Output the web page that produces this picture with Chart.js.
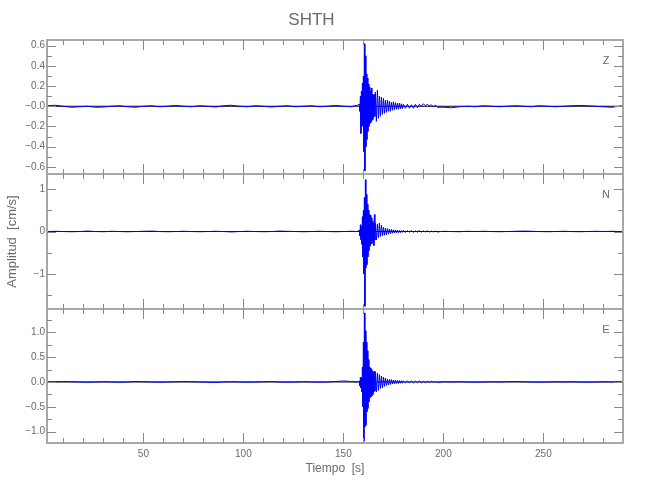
<!DOCTYPE html>
<html><head><meta charset="utf-8">
<script src="https://cdn.jsdelivr.net/npm/chart.js@4/dist/chart.umd.min.js"></script>
<style>html,body{margin:0;padding:0;background:#fff;}</style>
</head><body>
<canvas id="c" width="650" height="500"></canvas>
<script>
// ---- time samples (s) ----
const timeQuiet = [1.8, 6, 10, 14, 18, 22, 26, 30, 34, 38, 42, 46, 50, 54, 58, 62, 66, 70, 74, 78, 82, 86, 90, 94, 98, 102, 106, 110, 114, 118, 122, 126, 130, 134, 138, 142, 146, 150, 154, 157];
const timeBurst = [158, 158.25, 158.5, 158.75, 159, 159.25, 159.5, 159.75, 160, 160.25, 160.5, 160.75, 161, 161.25, 161.5, 161.75, 162, 162.25, 162.5, 162.75, 163, 163.25, 163.5, 163.75, 164, 164.25, 164.5, 164.75, 165, 165.25, 165.5, 165.75];
const timeDecay = [166, 166.5, 167, 167.5, 168, 168.5, 169, 169.5, 170, 170.5, 171, 171.5, 172, 172.5, 173, 173.5, 174, 174.5, 175, 175.5, 176, 176.5, 177, 177.5, 178, 178.5, 179, 179.5];
const timeCoda = [180, 181, 182, 183, 184, 185, 186, 187, 188, 189, 190, 191, 192, 193, 194, 195, 196, 197];
const timeTail = [200, 204, 208, 212, 216, 220, 224, 228, 232, 236, 240, 244, 248, 252, 256, 260, 264, 268, 272, 276, 280, 284, 288, 289.8];

// ---- Z component (cm/s) ----
const zQuiet = [0.005, 0.01, 0.0, -0.01, -0.005, 0.0, -0.01, -0.008, 0.0, 0.005, -0.005, -0.01, 0.0, 0.005, -0.005, 0.0, 0.008, 0.0, -0.005, 0.005, 0.0, -0.008, 0.005, 0.01, 0.0, -0.005, 0.005, 0.0, -0.008, 0.0, 0.005, -0.005, 0.0, 0.005, -0.005, 0.0, 0.008, 0.0, -0.005, 0.01];
const zBurst = [0.02, -0.05, 0.1, -0.27, 0.15, -0.2, 0.23, -0.18, 0.3, -0.45, 0.62, -0.64, 0.5, -0.4, 0.32, -0.33, 0.28, -0.25, 0.22, -0.2, 0.19, -0.17, 0.15, -0.16, 0.18, -0.14, 0.12, -0.13, 0.11, -0.1, 0.12, -0.1];
const zDecay = [0.14, -0.15, 0.16, -0.12, 0.1, -0.1, 0.09, -0.08, 0.08, -0.07, 0.06, -0.06, 0.06, -0.05, 0.05, -0.05, 0.04, -0.04, 0.045, -0.035, 0.035, -0.03, 0.03, -0.03, 0.03, -0.025, 0.025, -0.025];
const zCoda = [0.02, -0.02, 0.02, -0.02, 0.015, -0.02, 0.02, -0.015, 0.02, 0.0, 0.025, 0.005, 0.02, 0.0, 0.015, -0.005, 0.01, -0.01];
const zTail = [-0.01, -0.015, -0.005, 0.0, -0.005, 0.005, 0.0, -0.005, 0.0, 0.005, 0.0, -0.005, 0.005, 0.0, -0.005, 0.0, 0.005, 0.008, 0.005, 0.0, -0.005, -0.01, 0.0, 0.005];

// ---- N component ----
const nQuiet = [0.0, 0.005, 0.0, -0.005, 0.0, 0.01, 0.0, -0.005, 0.005, 0.0, -0.005, 0.0, 0.005, 0.01, 0.0, -0.005, 0.0, 0.005, 0.0, -0.005, 0.0, 0.005, 0.0, -0.01, 0.0, 0.005, 0.0, -0.005, 0.0, 0.01, 0.005, 0.0, -0.005, 0.0, 0.005, 0.0, -0.005, 0.0, 0.005, 0.0];
const nBurst = [0.03, -0.1, 0.16, -0.19, 0.12, -0.3, 0.35, -0.6, 0.5, -1.0, 0.8, -1.76, 1.22, -0.85, 0.87, -0.78, 0.64, -0.6, 0.5, -0.45, 0.4, -0.35, 0.38, -0.3, 0.32, -0.28, 0.25, -0.22, 0.2, -0.33, 0.4, -0.2];
const nDecay = [0.2, -0.2, 0.18, -0.15, 0.2, -0.12, 0.15, -0.1, 0.1, -0.09, 0.08, -0.08, 0.07, -0.06, 0.06, -0.05, 0.05, -0.04, 0.04, -0.035, 0.035, -0.03, 0.03, -0.03, 0.025, -0.025, 0.025, -0.02];
const nCoda = [0.02, -0.02, 0.02, -0.015, 0.02, -0.02, 0.015, -0.015, 0.02, -0.015, 0.015, -0.01, 0.015, -0.01, 0.01, -0.01, 0.01, -0.01];
const nTail = [0.005, 0.0, -0.005, 0.005, 0.0, 0.005, 0.0, -0.005, 0.0, 0.005, 0.01, 0.005, 0.0, -0.005, 0.0, 0.005, 0.0, -0.005, 0.0, 0.005, 0.0, 0.005, 0.0, 0.0];

// ---- E component ----
const eQuiet = [0.0, 0.005, 0.01, 0.005, 0.0, -0.005, 0.0, 0.005, 0.0, -0.005, 0.0, 0.01, 0.005, 0.0, -0.005, 0.0, 0.005, 0.01, 0.005, 0.0, -0.005, -0.01, 0.0, 0.005, 0.0, -0.005, 0.0, 0.005, 0.01, 0.0, -0.005, 0.0, 0.005, 0.0, -0.005, 0.0, 0.01, 0.02, 0.01, 0.0];
const eBurst = [0.02, -0.08, 0.1, -0.12, 0.08, -0.2, 0.3, -0.5, 0.8, -1.19, 1.39, -0.9, 1.03, -0.87, 0.8, -0.6, 0.63, -0.53, 0.45, -0.4, 0.3, -0.32, 0.28, -0.3, 0.25, -0.28, 0.22, -0.25, 0.2, -0.2, 0.22, -0.18];
const eDecay = [0.2, -0.2, 0.18, -0.17, 0.15, -0.13, 0.12, -0.12, 0.1, -0.09, 0.08, -0.07, 0.06, -0.06, 0.05, -0.05, 0.05, -0.04, 0.04, -0.035, 0.035, -0.03, 0.03, -0.03, 0.03, -0.025, 0.025, -0.025];
const eCoda = [0.02, -0.02, 0.025, -0.02, 0.02, -0.02, 0.02, -0.015, 0.02, -0.015, 0.015, -0.015, 0.015, -0.01, 0.015, -0.01, 0.01, -0.01];
const eTail = [0.005, 0.0, 0.005, 0.0, -0.005, 0.0, 0.005, 0.0, 0.005, 0.01, 0.005, 0.0, -0.005, 0.0, 0.005, 0.0, 0.005, 0.0, -0.005, 0.0, 0.005, 0.0, 0.005, 0.0];

// ---- ticks ----
const xRange = [1.8, 289.8];
const xMajorTicks = [50, 100, 150, 200, 250];
const xMinorTicks = [10, 20, 30, 40, 60, 70, 80, 90, 110, 120, 130, 140, 160, 170, 180, 190, 210, 220, 230, 240, 260, 270, 280];
const zRange = [-0.675, 0.657];
const zMajorTicks = [-0.6, -0.4, -0.2, 0, 0.2, 0.4, 0.6];
const zTickLabels = ['\u22120.6', '\u22120.4', '\u22120.2', '\u22120.0', '0.2', '0.4', '0.6'];
const zMinorTicks = [-0.5, -0.3, -0.1, 0.1, 0.3, 0.5];
const nRange = [-1.816, 1.346];
const nMajorTicks = [-1, 0, 1];
const nTickLabels = ['\u22121', '0', '1'];
const nMinorTicks = [-1.5, -0.5, 0.5];
const eRange = [-1.227, 1.475];
const eMajorTicks = [-1, -0.5, 0, 0.5, 1];
const eTickLabels = ['\u22121.0', '\u22120.5', '0.0', '0.5', '1.0'];
const eMinorTicks = [-0.75, -0.25, 0.25, 0.75, 1.25];

const times = [].concat(timeQuiet, timeBurst, timeDecay, timeCoda, timeTail);
const zVals = [].concat(zQuiet, zBurst, zDecay, zCoda, zTail);
const nVals = [].concat(nQuiet, nBurst, nDecay, nCoda, nTail);
const eVals = [].concat(eQuiet, eBurst, eDecay, eCoda, eTail);

const FONT = "'Liberation Sans', Arial, sans-serif";
const TXT = '#6a6a6a';
const FRAME = '#a8a8a8';

const toPts = vals => times.map((t, i) => ({x: t, y: vals[i]}));
const zeroPts = () => [{x: xRange[0], y: 0}, {x: xRange[1], y: 0}];

const panels = {
  yZ: {major: zMajorTicks, minor: zMinorTicks, label: 'Z'},
  yN: {major: nMajorTicks, minor: nMinorTicks, label: 'N'},
  yE: {major: eMajorTicks, minor: eMinorTicks, label: 'E'}
};

function yScale(range, major, labels, extra) {
  return Object.assign({
    type: 'linear', position: 'left', stack: 'panels', stackWeight: 1,
    min: range[0], max: range[1],
    grid: {display: false, drawTicks: false},
    border: {display: false},
    afterBuildTicks: s => { s.ticks = major.map(v => ({value: v})); },
    afterFit: s => { s.width = 47; },
    ticks: {
      autoSkip: false, padding: 2, color: TXT, font: {family: FONT, size: 10},
      callback: (v, i) => labels[i]
    }
  }, extra || {});
}

const framePlugin = {
  id: 'frames',
  afterDatasetsDraw(chart) {
    const {ctx, chartArea, scales} = chart;
    const xs = scales.x;
    const l = chartArea.left, r = chartArea.right;
    ctx.save();
    Object.keys(panels).forEach(id => {
      const s = scales[id];
      const cfg = panels[id];
      const top = Math.round(s.top), bot = Math.round(s.bottom);
      ctx.strokeStyle = FRAME;
      ctx.lineWidth = 2;
      ctx.strokeRect(l, top, r - l, bot - top);
      ctx.lineWidth = 1;
      ctx.strokeStyle = '#888888';
      ctx.beginPath();
      const yt = (v, len) => {
        const y = Math.round(s.getPixelForValue(v)) + 0.5;
        ctx.moveTo(l, y); ctx.lineTo(l + len, y);
        ctx.moveTo(r, y); ctx.lineTo(r - len, y);
      };
      const xt = (v, len) => {
        const x = Math.round(xs.getPixelForValue(v)) + 0.5;
        ctx.moveTo(x, top); ctx.lineTo(x, top + len);
        ctx.moveTo(x, bot); ctx.lineTo(x, bot - len);
      };
      cfg.major.forEach(v => yt(v, 9));
      cfg.minor.forEach(v => yt(v, 5));
      xMajorTicks.forEach(v => xt(v, 10));
      xMinorTicks.forEach(v => xt(v, 5));
      ctx.stroke();
      ctx.fillStyle = TXT;
      ctx.font = '11px ' + FONT;
      ctx.textAlign = 'center';
      ctx.textBaseline = 'middle';
      ctx.fillText(cfg.label, r - 17, top + 21);
    });
    ctx.restore();
  }
};

const traceStyle = {borderColor: '#0000ff', borderWidth: 1, pointRadius: 0, fill: false, tension: 0, order: 1};
const zeroStyle = {borderColor: '#000000', borderWidth: 1, pointRadius: 0, fill: false, order: 2};

new Chart(document.getElementById('c'), {
  type: 'line',
  data: {
    datasets: [
      Object.assign({label: 'Z0', data: zeroPts(), yAxisID: 'yZ'}, zeroStyle),
      Object.assign({label: 'N0', data: zeroPts(), yAxisID: 'yN'}, zeroStyle),
      Object.assign({label: 'E0', data: zeroPts(), yAxisID: 'yE'}, zeroStyle),
      Object.assign({label: 'Z', data: toPts(zVals), yAxisID: 'yZ'}, traceStyle),
      Object.assign({label: 'N', data: toPts(nVals), yAxisID: 'yN'}, traceStyle),
      Object.assign({label: 'E', data: toPts(eVals), yAxisID: 'yE'}, traceStyle)
    ]
  },
  options: {
    responsive: false,
    animation: false,
    devicePixelRatio: 1,
    layout: {padding: {left: 0, right: 27, top: 0, bottom: 0}},
    plugins: {
      legend: {display: false},
      tooltip: {enabled: false},
      title: {
        display: true, text: 'SHTH', color: TXT,
        font: {family: FONT, size: 17, weight: 'normal'},
        padding: {top: 10, bottom: 9.6}
      }
    },
    scales: {
      x: {
        type: 'linear', position: 'bottom', min: xRange[0], max: xRange[1],
        grid: {display: false, drawTicks: false},
        border: {display: false},
        afterBuildTicks: s => { s.ticks = xMajorTicks.map(v => ({value: v})); },
        afterFit: s => { s.height = 57; },
        ticks: {autoSkip: false, padding: 5, color: TXT, font: {family: FONT, size: 10}, maxRotation: 0,
          callback: v => String(v)},
        title: {display: true, text: 'Tiempo  [s]', color: TXT,
          font: {family: FONT, size: 12}, padding: {top: 0, bottom: 24}}
      },
      yE: yScale(eRange, eMajorTicks, eTickLabels),
      yN: yScale(nRange, nMajorTicks, nTickLabels, {
        title: {display: true, text: 'Amplitud  [cm/s]', color: TXT,
          font: {family: FONT, size: 13}, padding: {top: 5, bottom: 0}}
      }),
      yZ: yScale(zRange, zMajorTicks, zTickLabels)
    }
  },
  plugins: [framePlugin]
});
</script>
</body></html>
